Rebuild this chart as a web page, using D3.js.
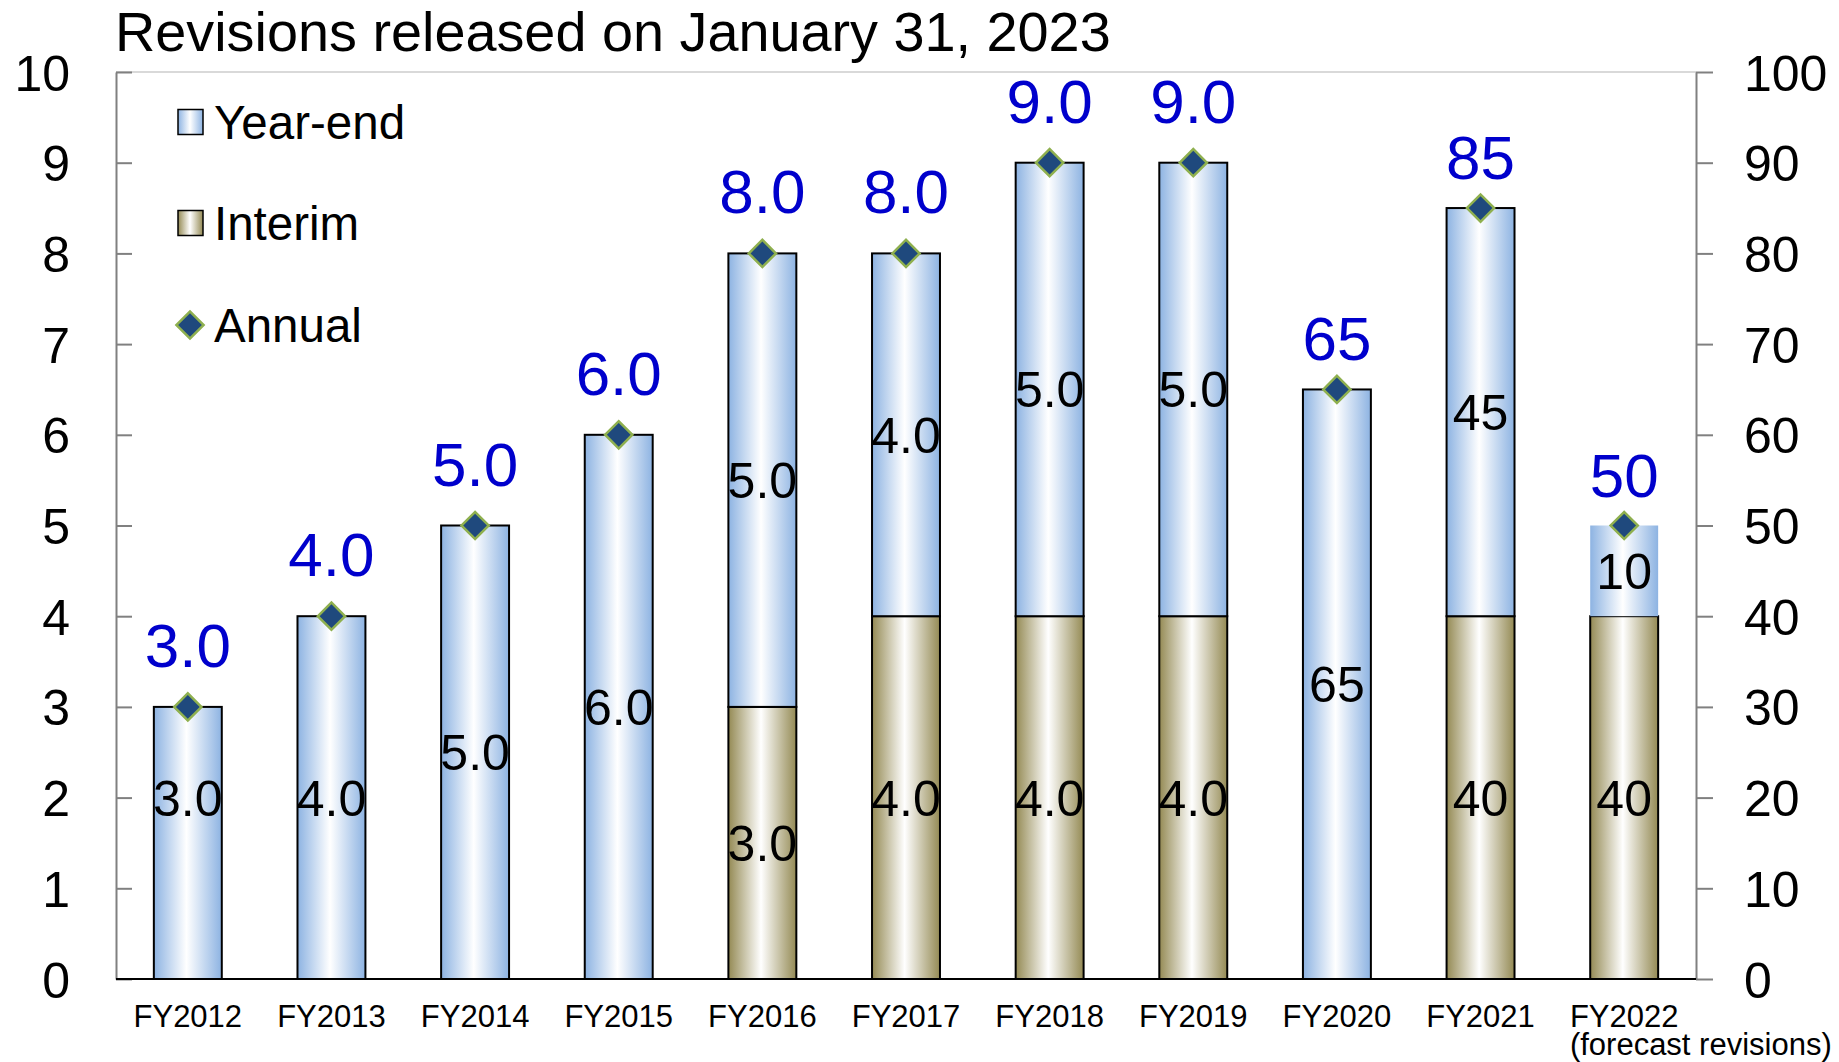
<!DOCTYPE html>
<html>
<head>
<meta charset="utf-8">
<script src="https://cdn.jsdelivr.net/npm/d3@7"></script>
<style>
  html, body { margin: 0; padding: 0; background: #fff; }
  svg { display: block; font-family: "Liberation Sans", Arial, Helvetica, sans-serif; }
</style>
</head>
<body>
<svg id="chart" width="1839" height="1062"></svg>
<script>
// Dividend per share by fiscal year. FY2012–FY2019 are read on the left axis,
// FY2020 onward (after the stock split) on the right axis.
const categories = ["FY2012", "FY2013", "FY2014", "FY2015", "FY2016", "FY2017",
                    "FY2018", "FY2019", "FY2020", "FY2021", "FY2022"];
const interim   = [0, 0, 0, 0, 3.0, 4.0, 4.0, 4.0, 0, 40, 40];
const yearEnd   = [3.0, 4.0, 5.0, 6.0, 5.0, 4.0, 5.0, 5.0, 65, 45, 10];
const annual    = [3.0, 4.0, 5.0, 6.0, 8.0, 8.0, 9.0, 9.0, 65, 85, 50];
const axisSide  = ["L", "L", "L", "L", "L", "L", "L", "L", "R", "R", "R"];
const forecast  = ["FY2022"];
const leftTicks  = [0, 1, 2, 3, 4, 5, 6, 7, 8, 9, 10];
const rightTicks = [0, 10, 20, 30, 40, 50, 60, 70, 80, 90, 100];
const legendItems = ["Year-end", "Interim", "Annual"];
const titleText = "Revisions released on January 31, 2023";
const forecastNote = "(forecast revisions)";

// ---- layout ----
const plot = { left: 116, right: 1696, top: 72, bottom: 979 };
const blueGrad = "#8db3e2", oliveGrad = "#948a54";

const svg = d3.select("#chart");

const x = d3.scaleBand().domain(categories)
  .range([plot.left, plot.right]).paddingInner(0.527).paddingOuter(0.2635);
const yL = d3.scaleLinear().domain([0, 10]).range([plot.bottom, plot.top]);
const yR = d3.scaleLinear().domain([0, 100]).range([plot.bottom, plot.top]);
const yOf = i => axisSide[i] === "L" ? yL : yR;
const fmtOf = i => axisSide[i] === "L" ? d3.format(".1f") : d3.format("d");

// ---- gradients ----
const defs = svg.append("defs");
function hGrad(id, edge) {
  const g = defs.append("linearGradient").attr("id", id)
    .attr("x1", "0%").attr("x2", "100%").attr("y1", "0%").attr("y2", "0%");
  g.append("stop").attr("offset", "0%").attr("stop-color", edge);
  g.append("stop").attr("offset", "48%").attr("stop-color", "#ffffff");
  g.append("stop").attr("offset", "100%").attr("stop-color", edge);
}
hGrad("gBlue", blueGrad);
hGrad("gOlive", oliveGrad);

// ---- title ----
svg.append("text").attr("x", 115).attr("y", 51)
  .attr("font-size", 55.8).attr("fill", "#000").text(titleText);

// ---- frame ----
svg.append("line").attr("x1", plot.left).attr("x2", plot.right)
  .attr("y1", plot.top).attr("y2", plot.top)
  .attr("stroke", "#d9d9d9").attr("stroke-width", 2);

// ---- axes ----
const gL = svg.append("g").attr("transform", `translate(${plot.left},0)`)
  .call(d3.axisLeft(yL).tickValues(leftTicks).tickFormat(d3.format("d"))
    .tickSizeInner(-16).tickSizeOuter(0).tickPadding(46));
const gR = svg.append("g").attr("transform", `translate(${plot.right},0)`)
  .call(d3.axisRight(yR).tickValues(rightTicks).tickFormat(d3.format("d"))
    .tickSizeInner(17).tickSizeOuter(0).tickPadding(31));
[gL, gR].forEach(g => {
  g.attr("font-family", null);
  g.select(".domain").attr("stroke", "#808080").attr("stroke-width", 2);
  g.selectAll(".tick line").attr("stroke", "#808080").attr("stroke-width", 2);
  g.selectAll(".tick text").attr("font-size", 50).attr("fill", "#000")
    .attr("dy", "0.36em");
});

// ---- stacked bars ----
const rows = categories.map((c, i) => ({
  c, i, interim: interim[i], yearEnd: yearEnd[i], annual: annual[i]
}));

const bars = svg.append("g");
rows.forEach(r => {
  const y = yOf(r.i), bx = x(r.c), bw = x.bandwidth();
  const isForecast = forecast.includes(r.c);
  if (r.interim > 0) {
    bars.append("rect").attr("x", bx).attr("width", bw)
      .attr("y", y(r.interim)).attr("height", y(0) - y(r.interim))
      .attr("fill", "url(#gOlive)").attr("stroke", "#000").attr("stroke-width", 2);
  }
  const top = r.interim + r.yearEnd;
  bars.append("rect").attr("x", bx).attr("width", bw)
    .attr("y", y(top)).attr("height", y(r.interim) - y(top))
    .attr("fill", "url(#gBlue)")
    .attr("stroke", isForecast ? "none" : "#000").attr("stroke-width", 2);
});

// ---- segment value labels ----
const labels = svg.append("g").attr("font-size", 50).attr("fill", "#000")
  .attr("text-anchor", "middle");
rows.forEach(r => {
  const y = yOf(r.i), f = fmtOf(r.i), cx = x(r.c) + x.bandwidth() / 2;
  if (r.interim > 0) {
    labels.append("text").attr("x", cx).attr("y", y(r.interim / 2)).attr("dy", "0.36em")
      .text(f(r.interim));
  }
  // single-segment FY2012 label sits at the same height as its neighbour
  const mid = r.c === "FY2012" ? r.interim + r.yearEnd / 2 + 0.5 : r.interim + r.yearEnd / 2;
  labels.append("text").attr("x", cx).attr("y", y(mid)).attr("dy", "0.36em")
    .text(f(r.yearEnd));
});

// ---- annual markers and labels ----
const diamond = d3.symbol(d3.symbolSquare, 370);
const marks = svg.append("g");
rows.forEach(r => {
  const y = yOf(r.i), cx = x(r.c) + x.bandwidth() / 2, cy = y(r.annual);
  marks.append("path").attr("d", diamond())
    .attr("transform", `translate(${cx},${cy}) rotate(45)`)
    .attr("fill", "#1f497d").attr("stroke", "#8fb04f").attr("stroke-width", 2.5);
  marks.append("text").attr("x", cx)
    .attr("y", cy - (axisSide[r.i] === "L" ? 40 : 29))
    .attr("text-anchor", "middle").attr("font-size", 62).attr("fill", "#0000cc")
    .text(fmtOf(r.i)(r.annual));
});

// ---- baseline ----
svg.append("line").attr("x1", plot.left).attr("x2", plot.right)
  .attr("y1", plot.bottom).attr("y2", plot.bottom)
  .attr("stroke", "#000").attr("stroke-width", 2);

// ---- category labels ----
const xl = svg.append("g").attr("font-size", 31).attr("fill", "#000");
categories.forEach(c => {
  const cx = x(c) + x.bandwidth() / 2;
  const t = xl.append("text").attr("x", cx).attr("y", 1027)
    .attr("text-anchor", "middle").text(c);
  if (forecast.includes(c)) {
    const w = t.node().getComputedTextLength();
    xl.append("text").attr("x", cx - w / 2).attr("y", 1055).text(forecastNote);
  }
});

// ---- legend ----
const lg = svg.append("g");
const legendRows = [
  { label: legendItems[0], kind: "rect", fill: "url(#gBlue)", y: 122 },
  { label: legendItems[1], kind: "rect", fill: "url(#gOlive)", y: 223 },
  { label: legendItems[2], kind: "diamond", y: 325 }
];
legendRows.forEach(d => {
  if (d.kind === "rect") {
    lg.append("rect").attr("x", 178).attr("y", d.y - 12.5).attr("width", 25).attr("height", 25)
      .attr("fill", d.fill).attr("stroke", "#000").attr("stroke-width", 1.5);
  } else {
    lg.append("path").attr("d", diamond())
      .attr("transform", `translate(190,${d.y}) rotate(45)`)
      .attr("fill", "#1f497d").attr("stroke", "#8fb04f").attr("stroke-width", 2.5);
  }
  lg.append("text").attr("x", 214).attr("y", d.y).attr("dy", "0.36em")
    .attr("font-size", 47.5).attr("fill", "#000").text(d.label);
});
</script>
</body>
</html>
